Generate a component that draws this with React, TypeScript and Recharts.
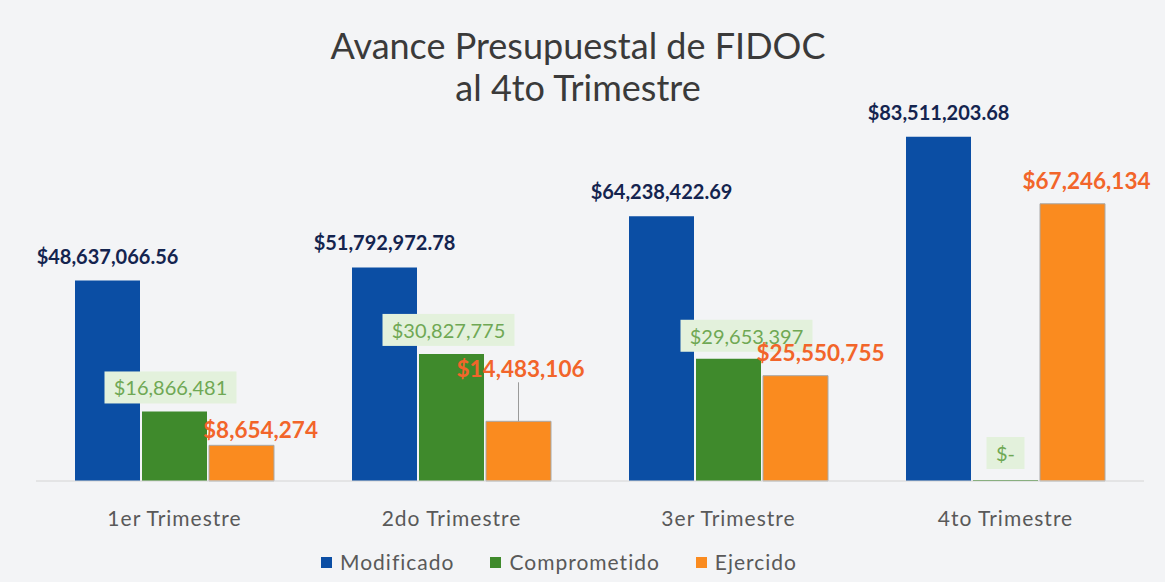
import { Bar, BarChart, LabelList, XAxis, YAxis } from "recharts";

const quarters = ["1er Trimestre", "2do Trimestre", "3er Trimestre", "4to Trimestre"];
const modificado = [48637066.56, 51792972.78, 64238422.69, 83511203.68];
const comprometido = [16866481, 30827775, 29653397, 0];
const ejercido = [8654274, 14483106, 25550755, 67246134];

const seriesNames = ["Modificado", "Comprometido", "Ejercido"];
const seriesColors = ["#0b4ea4", "#3f8a2c", "#fa8b1f"];

const data = quarters.map((q, i) => ({
  q,
  modificado: modificado[i],
  comprometido: comprometido[i],
  ejercido: ejercido[i],
}));

const FONT = "Lato, 'Open Sans', sans-serif";

const money = (v: number, decimals: number) =>
  v === 0
    ? "$-"
    : "$" +
      v.toLocaleString("en-US", {
        minimumFractionDigits: decimals,
        maximumFractionDigits: decimals,
      });

// small nudges so labels sit where the original places them
const greenShift = [-4, -3, 18, 0];
const greenLift = [24, 24, 23, 27];
const orangeShift = [19, 2, 25, 14];
const orangeLift = [16, 53, 23, 23];

function ModLabel(props: any) {
  const { x, y, width, value } = props;
  return (
    <text
      x={x + width / 2}
      y={y - 25}
      textAnchor="middle"
      dominantBaseline="central"
      fill="#14244f"
      fontFamily={FONT}
      fontWeight={700}
      fontSize={20}
    >
      {money(value, 2)}
    </text>
  );
}

function CompLabel(props: any) {
  const { x, y, width, value, index } = props;
  const txt = money(value, 0);
  const cx = x + width / 2 + greenShift[index];
  const cy = y - greenLift[index];
  const w = value === 0 ? 38 : 132;
  return (
    <g>
      <rect x={cx - w / 2} y={cy - 16} width={w} height={32} fill="#e3f1dc" />
      <text
        x={cx}
        y={cy}
        textAnchor="middle"
        dominantBaseline="central"
        fill="#6fa854"
        fontFamily={FONT}
        fontSize={20}
      >
        {txt}
      </text>
    </g>
  );
}

function EjeLabel(props: any) {
  const { x, y, width, value, index } = props;
  const bx = x + width / 2;
  const cx = bx + orangeShift[index];
  const cy = y - orangeLift[index];
  return (
    <g>
      {orangeLift[index] > 30 && (
        <line x1={bx} y1={cy + 14} x2={bx} y2={y} stroke="#9a9a9a" strokeWidth={1} />
      )}
      <text
        x={cx}
        y={cy}
        textAnchor="middle"
        dominantBaseline="central"
        fill="#f2652a"
        fontFamily={FONT}
        fontWeight={700}
        fontSize={22.5}
      >
        {money(value, 0)}
      </text>
    </g>
  );
}

function QuarterTick(props: any) {
  const { x, payload } = props;
  return (
    <text
      x={x}
      y={517}
      textAnchor="middle"
      dominantBaseline="central"
      fill="#595959"
      fontFamily={FONT}
      fontSize={21}
      letterSpacing={1}
    >
      {payload.value}
    </text>
  );
}

export default function App() {
  return (
    <div
      style={{
        position: "fixed",
        left: 0,
        top: 0,
        width: 1165,
        height: 582,
        background: "#f3f4f6",
        fontFamily: FONT,
      }}
    >
      <div
        style={{
          position: "absolute",
          left: 0,
          top: 24,
          width: 1156,
          textAlign: "center",
          color: "#3a3a3a",
          fontSize: 36,
          lineHeight: "42px",
        }}
      >
        Avance Presupuestal de FIDOC
        <br />
        al 4to Trimestre
      </div>

      <BarChart
        width={1165}
        height={582}
        data={data}
        margin={{ top: 110, right: 21, bottom: 0, left: 36 }}
        barSize={65}
        barGap={2}
        style={{ position: "absolute", left: 0, top: 0 }}
      >
        <XAxis
          dataKey="q"
          height={101}
          tickLine={false}
          axisLine={{ stroke: "#d4d4d4" }}
          tick={<QuarterTick />}
        />
        <YAxis hide domain={[0, 90000000]} />
        <Bar dataKey="modificado" fill={seriesColors[0]} isAnimationActive={false}>
          <LabelList dataKey="modificado" content={<ModLabel />} />
        </Bar>
        <Bar
          dataKey="comprometido"
          fill={seriesColors[1]}
          minPointSize={1}
          isAnimationActive={false}
        >
          <LabelList dataKey="comprometido" content={<CompLabel />} />
        </Bar>
        <Bar
          dataKey="ejercido"
          fill={seriesColors[2]}
          stroke="#a8a8a8"
          strokeWidth={1}
          isAnimationActive={false}
        >
          <LabelList dataKey="ejercido" content={<EjeLabel />} />
        </Bar>
      </BarChart>

      <div
        style={{
          position: "absolute",
          left: 0,
          top: 548,
          width: 1118,
          display: "flex",
          justifyContent: "center",
          gap: 36,
          color: "#595959",
          fontSize: 21,
          letterSpacing: 1,
          lineHeight: "28px",
        }}
      >
        {seriesNames.map((n, i) => (
          <div key={n} style={{ display: "flex", alignItems: "center", gap: 8 }}>
            <span
              style={{
                display: "inline-block",
                width: 11,
                height: 11,
                background: seriesColors[i],
              }}
            />
            {n}
          </div>
        ))}
      </div>
    </div>
  );
}
